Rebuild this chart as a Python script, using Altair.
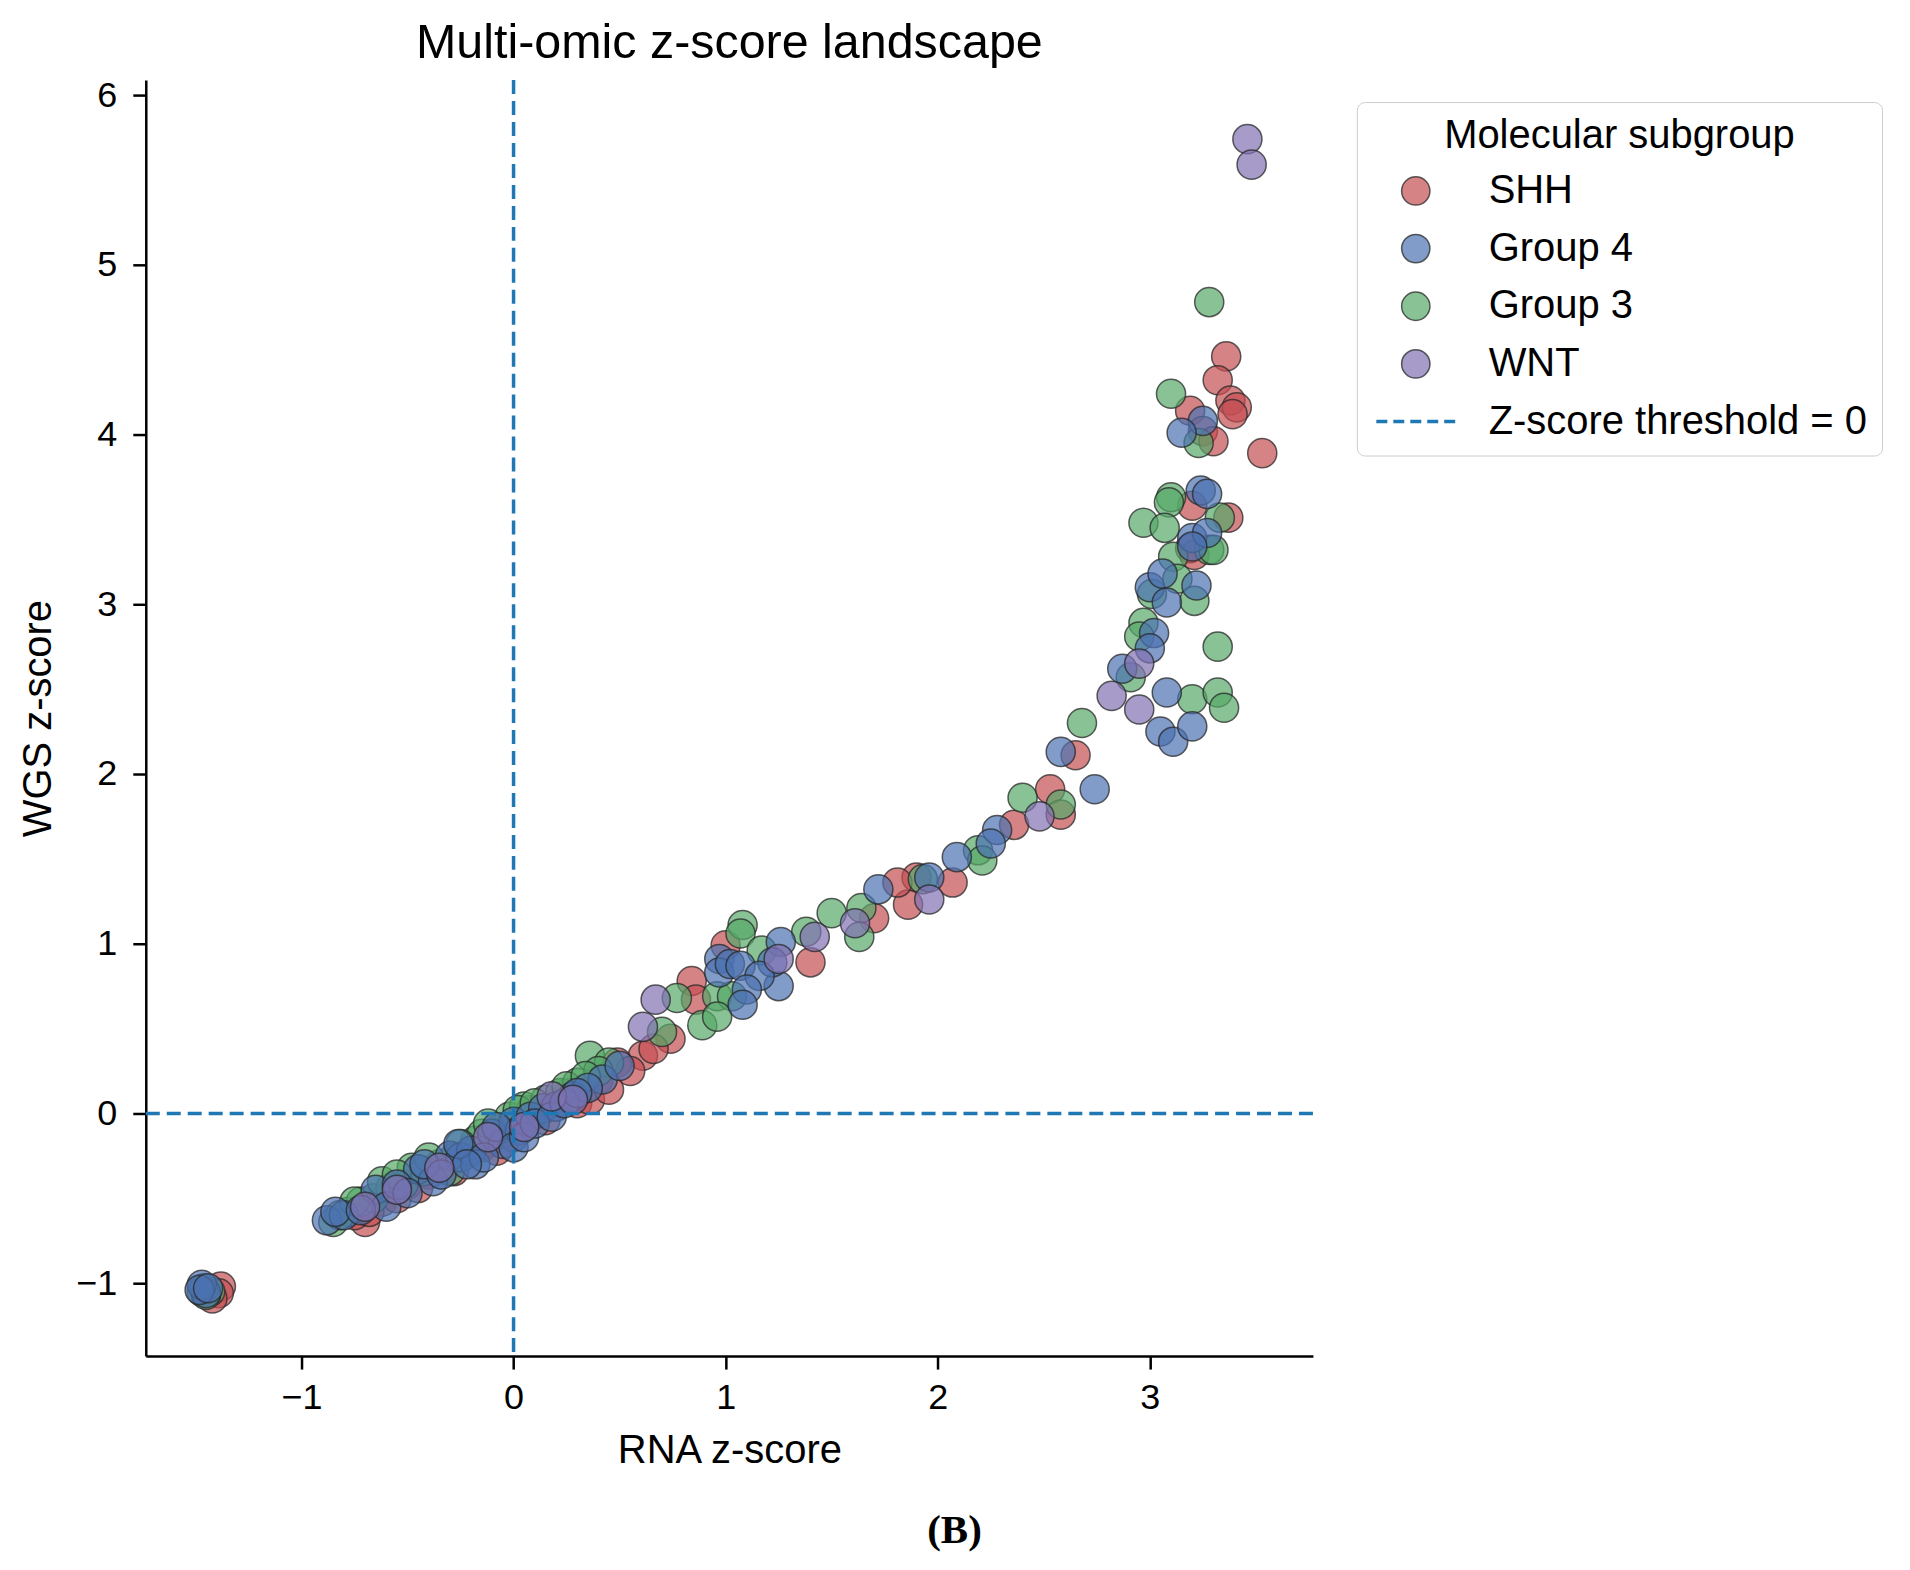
import altair as alt
import pandas as pd

F = "Liberation Sans"
groups = ["SHH", "Group 4", "Group 3", "WNT"]
threshold_label = "Z-score threshold = 0"
threshold = [0]

shh_x = [3.36, 3.32, 3.38, 3.41, 3.39, 3.19, 3.25, 3.30, 3.53, 3.37, 3.20, 3.19, 3.21,
         2.65, 2.53, 2.58, 2.36, 2.07, 1.90, 1.86, 1.81, 1.70, 1.40, 1.00, 0.84, 0.86, 0.74, 0.61, 0.49, 0.55, 0.66,
         -0.70, -0.62, -0.50, -0.40, -0.33, -0.22, -0.15, -0.12, -0.05, 0.05, 0.08, 0.12, 0.20, 0.26, 0.33, 0.40,
         -0.75, -0.68, -0.55, -0.45, -0.28, -0.08, 0.00, 0.15, 0.30, 0.36, 0.45,
         -1.38, -1.39, -1.42]
shh_y = [4.46, 4.32, 4.20, 4.16, 4.12, 4.14, 4.02, 3.96, 3.89, 3.51, 3.58, 3.33, 3.29,
         2.11, 1.91, 1.76, 1.70, 1.36, 1.39, 1.23, 1.36, 1.15, 0.89, 0.99, 0.78, 0.67, 0.44, 0.34, 0.30, 0.25, 0.38,
         -0.64, -0.52, -0.42, -0.36, -0.33, -0.24, -0.20, -0.17, -0.12, -0.06, 0.02, 0.00, 0.06, 0.12, 0.14, 0.20,
         -0.60, -0.58, -0.50, -0.44, -0.34, -0.22, -0.14, -0.04, 0.06, 0.08, 0.14,
         -1.02, -1.06, -1.09]

g3_x = [3.28, 3.10, 3.23, 3.10, 3.09, 2.97, 3.07, 3.33, 3.28, 3.11, 3.30, 3.13, 3.01, 3.21, 3.32, 2.97, 2.95, 2.91, 3.20, 3.32, 3.35,
        2.68, 2.40, 2.58, 2.19, 2.21, 1.93, 1.64, 1.63, 1.50, 1.38, 1.08, 1.07, 1.17, 0.96, 1.03, 0.89, 0.96, 0.77, 0.70, 0.36, 0.45,
        -0.85, -0.78, -0.72, -0.66, -0.58, -0.52, -0.48, -0.42, -0.35, -0.28, -0.18, -0.15, -0.08, -0.02, 0.05, 0.15, 0.22, 0.30, 0.40,
        -0.82, -0.75, -0.62, -0.55, -0.40, -0.25, -0.12, 0.02, 0.10, 0.25, 0.34, -0.30,
        -1.47, -1.43, -1.45, -1.46]
g3_y = [4.78, 4.24, 3.95, 3.63, 3.60, 3.48, 3.45, 3.51, 3.32, 3.28, 3.32, 3.15, 3.06, 3.02, 2.75, 2.89, 2.81, 2.57, 2.44, 2.48, 2.39,
        2.30, 1.86, 1.82, 1.55, 1.49, 1.38, 1.21, 1.04, 1.18, 1.07, 1.11, 1.06, 0.96, 0.69, 0.69, 0.52, 0.57, 0.68, 0.48, 0.34, 0.30,
        -0.64, -0.58, -0.52, -0.50, -0.44, -0.42, -0.32, -0.34, -0.30, -0.26, -0.16, -0.12, -0.10, -0.02, 0.04, 0.08, 0.12, 0.18, 0.25,
        -0.60, -0.52, -0.40, -0.36, -0.26, -0.18, -0.06, 0.02, 0.06, 0.16, 0.22, -0.34,
        -1.05, -1.05, -1.07, -1.03]

g4_x = [3.25, 3.15, 3.24, 3.27, 3.20, 3.27, 3.20, 3.00, 3.06, 3.08, 3.22, 3.02, 3.00, 2.87, 3.08, 3.05, 3.11, 3.20,
        2.58, 2.74, 2.28, 2.25, 2.09, 1.96, 1.72, 1.26, 1.25, 1.22, 0.97, 0.97, 1.02, 1.07, 1.16, 1.10, 1.08, 0.42, 0.50,
        -0.88, -0.80, -0.65, -0.60, -0.45, -0.38, -0.30, -0.25, -0.20, -0.18, -0.10, -0.05, 0.00, 0.03, 0.08, 0.14, 0.20, 0.28, 0.35,
        -0.84, -0.72, -0.55, -0.50, -0.42, -0.34, -0.26, -0.14, -0.08, 0.00, 0.05, 0.10, 0.18, 0.24, 0.30, -0.22,
        -1.45, -1.47, -1.48, -1.44]
g4_y = [4.08, 4.01, 3.67, 3.65, 3.39, 3.42, 3.34, 3.10, 3.18, 3.01, 3.11, 2.83, 2.74, 2.62, 2.48, 2.25, 2.19, 2.28,
        2.13, 1.91, 1.67, 1.59, 1.51, 1.39, 1.32, 1.01, 0.75, 0.89, 0.91, 0.83, 0.88, 0.87, 0.81, 0.73, 0.64, 0.20, 0.28,
        -0.63, -0.60, -0.45, -0.55, -0.33, -0.40, -0.25, -0.26, -0.22, -0.30, -0.12, -0.18, -0.05, -0.10, -0.02, 0.03, 0.04, 0.10, 0.15,
        -0.58, -0.57, -0.42, -0.47, -0.30, -0.36, -0.18, -0.26, -0.08, -0.20, -0.14, -0.06, -0.02, 0.06, 0.12, -0.30,
        -1.06, -1.01, -1.04, -1.03]

wnt_x = [3.46, 3.48, 2.95, 2.82, 2.95, 2.48, 1.96, 1.61, 1.42, 1.25, 0.67, 0.61, 0.18, 0.28, -0.35, -0.55, -0.12, -0.70, 0.05]
wnt_y = [5.74, 5.59, 2.65, 2.46, 2.38, 1.75, 1.26, 1.12, 1.04, 0.91, 0.67, 0.51, 0.10, 0.08, -0.32, -0.45, -0.14, -0.55, -0.08]

rows = []
for g, xs, ys in [("SHH", shh_x, shh_y), ("Group 3", g3_x, g3_y), ("Group 4", g4_x, g4_y), ("WNT", wnt_x, wnt_y)]:
    for a, b in zip(xs, ys):
        rows.append({"group": g, "rna": a, "wgs": b})
df = pd.DataFrame(rows)

domain = groups + [threshold_label]
fill_range = ["rgba(196,78,82,0.7)", "rgba(76,114,176,0.7)", "rgba(85,168,104,0.7)",
              "rgba(129,114,178,0.7)", "#1f77b4"]

T = "datum.value === 'Z-score threshold = 0'"
dash_path = "M-2.786,0H-2.01M-1.587,0H-0.811M-0.388,0H0.388M0.811,0H1.587M2.01,0H2.786"
edge = "rgba(40,40,40,0.75)"

xscale = alt.Scale(domain=[-1.734, 3.769], nice=False, zero=False)
yscale = alt.Scale(domain=[-1.43, 6.088], nice=False, zero=False)

axis_common = dict(grid=False, format="d", domainColor="black", domainWidth=2.5, tickColor="black",
                   tickWidth=2.5, tickSize=13, labelFontSize=36, labelColor="black", labelFont=F,
                   titleFontSize=40, titleFontWeight="normal", titleColor="black", titleFont=F)

legend = alt.Legend(
    title="Molecular subgroup", orient="none", legendX=1213, legendY=22,
    titleFontSize=40, titleFont=F, titleFontWeight="normal", titleColor="black",
    titleAnchor="middle", titlePadding=15, titleLimit=800, labelLimit=800,
    labelFontSize=40, labelFont=F, labelColor="black", labelOffset=53, symbolOffset=25,
    symbolSize=804, symbolOpacity=1,
    symbolType={"expr": f"{T} ? '{dash_path}' : 'circle'"},
    symbolStrokeColor={"expr": f"{T} ? '#1f77b4' : '{edge}'"},
    symbolStrokeWidth={"expr": f"{T} ? 3.5 : 1.5"},
    rowPadding=17.75, padding=14, strokeColor="#cccccc", fillColor="white", cornerRadius=8,
)

points = alt.Chart(df).mark_circle(
    size=850, opacity=1,
    stroke={"expr": f"{T} ? '#1f77b4' : '{edge}'"},
    strokeWidth={"expr": f"{T} ? 3.5 : 1.5"},
).encode(
    x=alt.X("rna:Q", scale=xscale,
            axis=alt.Axis(values=[-1, 0, 1, 2, 3], title="RNA z-score", labelPadding=11, titlePadding=16, **axis_common)),
    y=alt.Y("wgs:Q", scale=yscale,
            axis=alt.Axis(values=[-1, 0, 1, 2, 3, 4, 5, 6], title="WGS z-score", labelPadding=16, titlePadding=17, **axis_common)),
    color=alt.Color("group:N", scale=alt.Scale(domain=domain, range=fill_range), legend=legend),
)

vrule = alt.Chart(pd.DataFrame({"t": threshold})).mark_rule(
    color="#1f77b4", strokeWidth=3.5, strokeDash=[14, 7]
).encode(x=alt.X("t:Q", scale=xscale))

hrule = alt.Chart(pd.DataFrame({"t": threshold})).mark_rule(
    color="#1f77b4", strokeWidth=3.5, strokeDash=[14, 7]
).encode(y=alt.Y("t:Q", scale=yscale))

caption = alt.Chart(pd.DataFrame({"c": ["(B)"]})).mark_text(
    font="Liberation Serif", fontWeight="bold", fontSize=41, color="black"
).encode(text="c:N", x=alt.value(810), y=alt.value(1453))

chart = alt.layer(points, vrule, hrule, caption).properties(
    width=1169, height=1278,
    title=alt.TitleParams("Multi-omic z-score landscape", fontSize=48.5, font=F, fontWeight="normal",
                          color="black", anchor="middle", offset=9),
    autosize=alt.AutoSizeParams(type="none"),
    padding={"left": 138, "top": 71, "right": 590, "bottom": 200},
).configure_view(stroke=None)

chart.save("out.html", embed_options={"renderer": "svg", "actions": False})
